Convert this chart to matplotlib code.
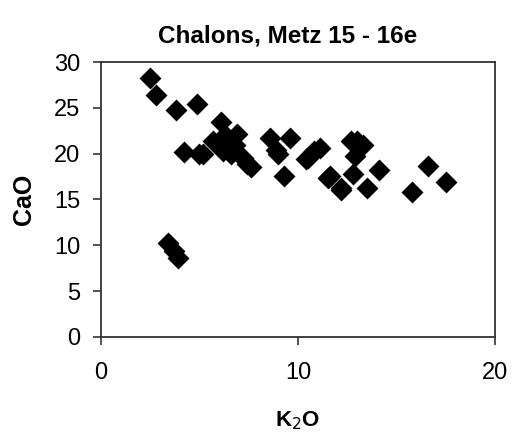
import matplotlib
matplotlib.use("Agg")
import matplotlib.pyplot as plt

# K2O / CaO values
k2o = [2.5, 2.8, 3.8, 4.9, 4.2, 5.2, 6.1, 6.9, 5.7, 6.2, 7.2, 7.6, 5.0,
       6.6, 7.4, 6.3, 6.8, 8.6, 9.6, 9.0, 9.3, 8.9, 10.4, 11.1, 10.8, 10.5,
       11.5, 12.2, 11.6, 12.7, 13.0, 13.3, 12.9, 12.8, 12.2, 13.5, 14.1,
       16.6, 17.5, 15.8, 3.4, 3.7, 3.9]
cao = [28.3, 26.4, 24.8, 25.4, 20.2, 20.0, 23.5, 22.1, 21.4, 20.3, 19.5,
       18.5, 20.0, 20.0, 18.9, 22.0, 21.0, 21.7, 21.7, 20.0, 17.6, 20.4, 19.4,
       20.6, 20.3, 19.5, 17.4, 16.3, 17.6, 21.4, 21.4, 21.0, 19.8, 17.8,
       16.0, 16.2, 18.2, 18.7, 16.9, 15.8, 10.2, 9.4, 8.6]

x_ticks = [0, 10, 20]
y_ticks = [0, 5, 10, 15, 20, 25, 30]

plt.rcParams['font.family'] = ['Liberation Sans', 'DejaVu Sans']

fig = plt.figure(figsize=(5.12, 4.37), dpi=100)
ax = fig.add_axes([0.197, 0.229, 0.770, 0.629])

ax.scatter(k2o, cao, marker='D', s=125, color='black', linewidths=0)

ax.set_xlim(0, 20)
ax.set_ylim(0, 30)
ax.set_xticks(x_ticks)
ax.set_yticks(y_ticks)
ax.tick_params(labelsize=17, length=6, width=1.2, color='#333333')
ax.tick_params(axis='x', pad=12)
ax.tick_params(axis='y', pad=9)
for sp in ax.spines.values():
    sp.set_color('#333333')
    sp.set_linewidth(1.3)

fig.text(288 / 512, 1 - 36 / 437, 'Chalons, Metz 15 - 16e', fontsize=17.5,
         fontweight='bold', ha='center', va='center')
ax.set_xlabel('K$_2$O', fontsize=16, fontweight='bold')
ax.set_ylabel('CaO', fontsize=18, fontweight='bold')
ax.xaxis.set_label_coords(0.5, -0.265)
ax.yaxis.set_label_coords(-0.165, 0.5)

fig.savefig('out.png', dpi=100)
